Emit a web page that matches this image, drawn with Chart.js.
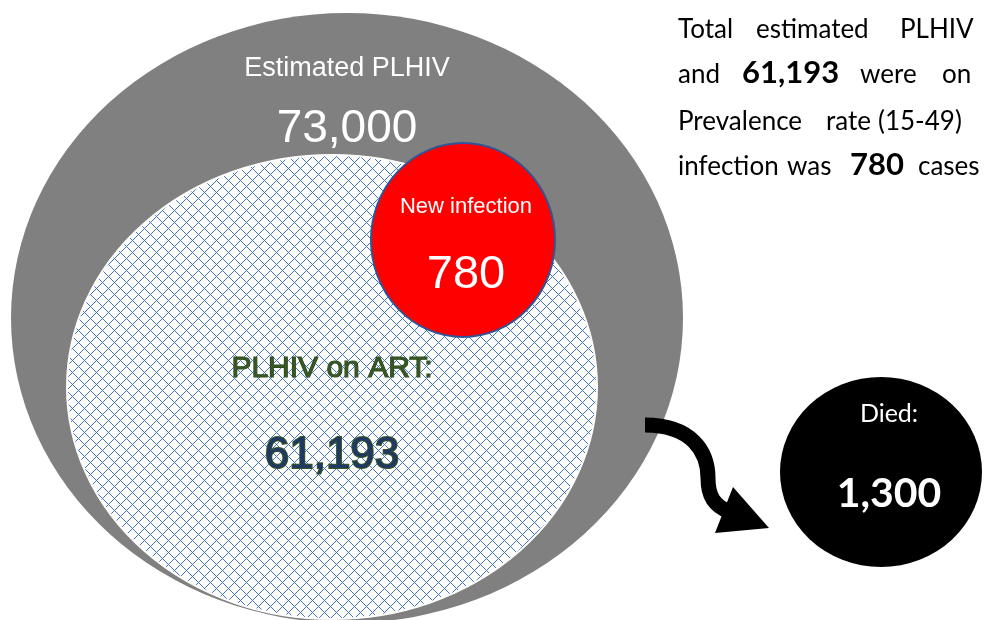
<!DOCTYPE html>
<html>
<head>
<meta charset="utf-8">
<script src="https://cdn.jsdelivr.net/npm/chart.js@4.4.0/dist/chart.umd.min.js"></script>
<style>
  html, body { margin: 0; padding: 0; background: #fff; }
  #wrap { width: 984px; height: 620px; position: relative; overflow: hidden; }
</style>
</head>
<body>
<div id="wrap"><canvas id="plhivChart"></canvas></div>
<script>
// --- DATA ---
const categories = ['Estimated PLHIV', 'PLHIV on ART:', 'New infection', 'Died:'];
const counts = [73000, 61193, 780, 1300];

// --- LAYOUT (scale units == canvas pixels, 984 x 620) ---
const centers = [[347, 318], [332, 387], [463, 240], [881, 472]];
const radii = [[336, 305], [265, 232], [92, 97], [101, 95]];
const fills = ['#808080', 'hatch', '#ff0000', '#000000'];

// label baseline / value baseline / center x / fonts / colours
const labelStyle = [
    { x: 347, yLabel: 76,  yValue: 142, fLabel: '27px "Liberation Sans"', fValue: '46px "Liberation Sans"', color: '#ffffff' },
    { x: 332, yLabel: 377, yValue: 468, fLabel: '30px "Liberation Sans"', fValue: '44px "Liberation Sans"', color: '#375623', valueColor: '#1f3864', outline: '#385723' },
    { x: 466, yLabel: 213, yValue: 288, fLabel: '22px "Liberation Sans"', fValue: '47px "Liberation Sans"', color: '#ffffff' },
    { x: 889, yLabel: 422, yValue: 507, fLabel: '25px Lato', fValue: 'bold 41px Lato', color: '#ffffff' }
];

const fmt = n => n.toLocaleString('en-US');

// Side note, justified in the original so each word has its own x
const noteLines = [
    { y: 38,  words: [['Total', 678], ['estimated', 756], ['PLHIV', 900]] },
    { y: 83,  words: [['and', 678], [fmt(counts[1]), 742, true], ['were', 860], ['on', 942]] },
    { y: 130, words: [['Prevalence', 678], ['rate', 826], ['(15-49)', 878]] },
    { y: 175, words: [['infection', 678], ['was', 787], [fmt(counts[2]), 850, true], ['cases', 918]] }
];

// Curved arrow from the PLHIV circle towards "Died"
const arrowPath = { start: [645, 425], c1: [692, 425], c2: [708, 452], mid: [708, 478], c3: [708, 496], c4: [714, 506], end: [730, 512] };
const arrowHead = [[733, 487], [769, 528], [715, 533]];

// crisp 1px diamond lattice like the Office "large grid" pattern
function makeHatch(ctx) {
    const p = 12;
    const tile = document.createElement('canvas');
    tile.width = p; tile.height = p;
    const t = tile.getContext('2d');
    t.fillStyle = '#ffffff';
    t.fillRect(0, 0, p, p);
    t.fillStyle = '#4472c4';
    for (let y = 0; y < p; y++) {
        for (let x = 0; x < p; x++) {
            if ((x - y + p) % p === 0 || (x + y) % p === 0) t.fillRect(x, y, 1, 1);
        }
    }
    return ctx.createPattern(tile, 'repeat');
}

const vennPlugin = {
    id: 'venn',
    beforeDatasetsDraw(chart) {
        const ctx = chart.ctx;
        const xs = chart.scales.x, ys = chart.scales.y;
        const meta = chart.getDatasetMeta(0);
        const toPx = ([x, y]) => [xs.getPixelForValue(x), ys.getPixelForValue(y)];

        meta.data.forEach((pt, i) => {
            const [cx, cy] = centers[i];
            const rx = Math.abs(xs.getPixelForValue(cx + radii[i][0]) - pt.x);
            const ry = Math.abs(ys.getPixelForValue(cy + radii[i][1]) - pt.y);
            ctx.save();
            ctx.beginPath();
            ctx.ellipse(pt.x, pt.y, rx, ry, 0, 0, Math.PI * 2);
            ctx.fillStyle = fills[i] === 'hatch' ? makeHatch(ctx) : fills[i];
            ctx.fill();
            if (i === 1) {
                // thin white rim between grey and hatch
                ctx.lineWidth = 2;
                ctx.strokeStyle = '#ffffff';
                ctx.stroke();
            }
            if (i === 2) {
                ctx.lineWidth = 2;
                ctx.strokeStyle = '#2f5597';
                ctx.stroke();
            }
            ctx.restore();

            // arrow goes on top of the big grey circle
            if (i === 1) {
                const a = arrowPath;
                ctx.save();
                ctx.strokeStyle = '#000';
                ctx.lineWidth = 15;
                ctx.beginPath();
                ctx.moveTo(...toPx(a.start));
                ctx.bezierCurveTo(...toPx(a.c1), ...toPx(a.c2), ...toPx(a.mid));
                ctx.bezierCurveTo(...toPx(a.c3), ...toPx(a.c4), ...toPx(a.end));
                ctx.stroke();
                ctx.fillStyle = '#000';
                ctx.beginPath();
                arrowHead.forEach((p, k) => k ? ctx.lineTo(...toPx(p)) : ctx.moveTo(...toPx(p)));
                ctx.closePath();
                ctx.fill();
                ctx.restore();
            }
        });
    },
    afterDatasetsDraw(chart) {
        const ctx = chart.ctx;
        const xs = chart.scales.x, ys = chart.scales.y;
        ctx.save();
        ctx.textAlign = 'center';
        ctx.textBaseline = 'alphabetic';
        categories.forEach((name, i) => {
            const s = labelStyle[i];
            const x = xs.getPixelForValue(s.x);
            ctx.font = s.fLabel;
            ctx.fillStyle = s.color;
            if (s.outline) {
                ctx.lineWidth = 1.2;
                ctx.strokeStyle = '#2c4a1c';
                ctx.strokeText(name, x, ys.getPixelForValue(s.yLabel));
            }
            ctx.fillText(name, x, ys.getPixelForValue(s.yLabel));

            ctx.font = s.fValue;
            ctx.fillStyle = s.valueColor || s.color;
            if (s.outline) {
                ctx.lineWidth = 2;
                ctx.strokeStyle = s.outline;
                ctx.strokeText(fmt(counts[i]), x, ys.getPixelForValue(s.yValue));
            }
            ctx.fillText(fmt(counts[i]), x, ys.getPixelForValue(s.yValue));
        });

        // side note
        ctx.textAlign = 'left';
        ctx.fillStyle = '#000';
        noteLines.forEach(line => {
            line.words.forEach(([w, x, bold]) => {
                ctx.font = bold ? 'bold 31px Lato' : '26px Lato';
                ctx.fillText(w, xs.getPixelForValue(x), ys.getPixelForValue(line.y));
            });
        });
        ctx.restore();
    }
};

new Chart(document.getElementById('plhivChart'), {
    type: 'bubble',
    data: {
        labels: categories,
        datasets: [{
            data: centers.map(([x, y]) => ({ x, y, r: 0 })),
            backgroundColor: 'rgba(0,0,0,0)',
            borderWidth: 0,
            hoverRadius: 0
        }]
    },
    options: {
        responsive: true,
        maintainAspectRatio: false,
        animation: false,
        layout: { padding: 0 },
        scales: {
            x: { type: 'linear', min: 0, max: 984, display: false },
            y: { type: 'linear', min: 0, max: 620, reverse: true, display: false }
        },
        plugins: {
            legend: { display: false },
            tooltip: { enabled: false }
        }
    },
    plugins: [vennPlugin]
});
</script>
</body>
</html>
